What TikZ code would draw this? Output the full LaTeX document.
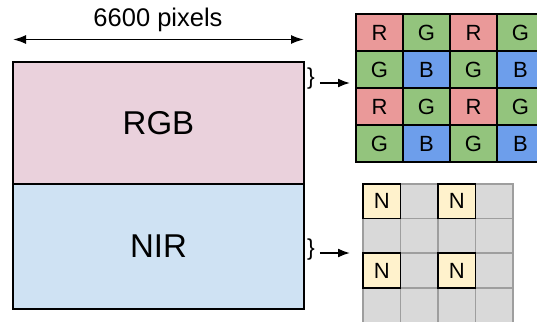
\documentclass[tikz,border=0pt]{standalone}
\usepackage{fontspec}
\setmainfont{Liberation Sans}
\usetikzlibrary{arrows.meta}
\definecolor{cR}{HTML}{EA9999}
\definecolor{cG}{HTML}{93C47D}
\definecolor{cB}{HTML}{6D9EEB}
\definecolor{rgbfill}{HTML}{EAD1DC}
\definecolor{nirfill}{HTML}{CFE2F3}
\definecolor{nfill}{HTML}{FFF2CC}
\definecolor{gfill}{HTML}{D9D9D9}
\definecolor{gline}{HTML}{9E9E9E}
\begin{document}
\begin{tikzpicture}[x=1pt,y=-1pt,
  every node/.style={outer sep=0pt},
  band/.style={draw=black,line width=1.5pt,minimum width=291pt,inner sep=0pt,anchor=north west,font=\fontsize{33}{33}\selectfont},
  ccell/.style={draw=black,line width=1.6pt,minimum width=47pt,minimum height=37pt,inner sep=0pt,anchor=north west,font=\fontsize{22}{22}\selectfont},
  gcell/.style={draw=gline,fill=gfill,line width=1.5pt,minimum width=37.5pt,minimum height=34.6pt,inner sep=0pt,anchor=north west},
  ncell/.style={draw=black,fill=nfill,line width=1.5pt,minimum width=37.5pt,minimum height=34.6pt,inner sep=0pt,anchor=north west,font=\fontsize{22}{22}\selectfont},
  brc/.style={inner sep=0pt,font=\fontsize{23}{23}\selectfont},
  arr/.style={line width=1.8pt,-{Latex[length=12pt,width=9pt]}},
  dim/.style={line width=1.8pt,{Latex[length=13pt,width=9pt]}-{Latex[length=13pt,width=9pt]}}
]
\useasboundingbox (0,0) rectangle (537,321);
\clip (0,0) rectangle (537,321);
% left bands
\node[band,fill=rgbfill,minimum height=122pt] (rgb) at (13,62) {RGB};
\node[band,fill=nirfill,minimum height=125pt] (nir) at (13,184) {NIR};
% dimension arrow
\coordinate (dl) at (13,39.5);
\coordinate (dr) at (304,39.5);
\draw[dim] (dl) -- (dr);
\node[font=\fontsize{25.5}{25.5}\selectfont] (dimlab) at (158,20) {6600 pixels};
% braces and arrows
\node[brc] (b1) at (311,79) {\}};
\node[brc] (b2) at (311,250) {\}};
\coordinate (a1) at (350,83);
\coordinate (a2) at (350,253);
\draw[arr] (b1.east) ++(5,4) coordinate (s1) -- (a1);
\draw[arr] (b2.east) ++(5,3) coordinate (s2) -- (a2);
% Bayer grid
\foreach \j/\rowtxt in {0/{R/cR,G/cG,R/cR,G/cG},1/{G/cG,B/cB,G/cG,B/cB},2/{R/cR,G/cG,R/cR,G/cG},3/{G/cG,B/cB,G/cG,B/cB}}{
  \foreach \t/\c [count=\i from 0] in \rowtxt {
    \node[ccell,fill=\c] (c\i\j) at ({356+47*\i},{14+37*\j}) {\t};
  }
}
% NIR grid
\foreach \i in {0,1,2,3}{
  \foreach \j in {0,1,2,3}{
    \node[gcell] (g\i\j) at ({363+37.5*\i},{184+34.6*\j}) {};
  }
}
\foreach \i in {0,2}{
  \foreach \j in {0,2}{
    \node[ncell] (n\i\j) at ({363+37.5*\i},{184+34.6*\j}) {N};
  }
}
\end{tikzpicture}
\end{document}
